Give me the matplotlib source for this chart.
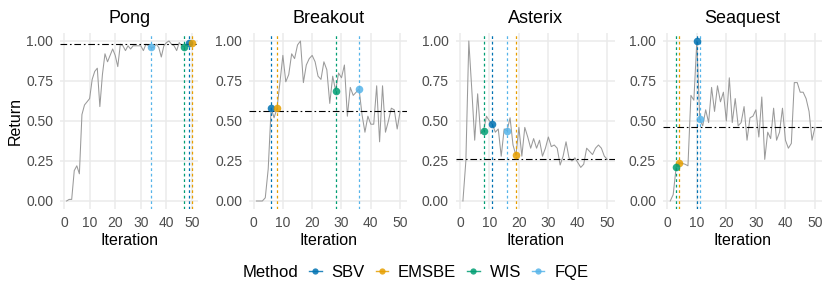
import matplotlib
matplotlib.use('Agg')
import matplotlib.pyplot as plt
from matplotlib.lines import Line2D

plt.rcParams['font.family'] = ['Liberation Sans', 'DejaVu Sans']

# ---- data ----
iterations = list(range(1, 51))
games = ['Pong', 'Breakout', 'Asterix', 'Seaquest']

pong_return = [0.00, 0.01, 0.01, 0.19, 0.22, 0.17, 0.54, 0.60, 0.62, 0.64,
               0.76, 0.81, 0.83, 0.59, 0.79, 0.92, 0.87, 0.91, 0.95, 0.91,
               0.84, 0.98, 0.97, 0.94, 0.97, 0.95, 0.97, 0.97, 0.97, 0.97,
               0.94, 0.98, 0.97, 0.96, 0.96, 0.98, 0.96, 0.90, 0.97, 0.99,
               1.00, 0.98, 0.97, 0.94, 0.99, 0.97, 0.965, 0.98, 0.985, 0.985]
breakout_return = [0.00, 0.00, 0.00, 0.02, 0.20, 0.58, 0.52, 0.58, 0.74, 0.91,
                   0.745, 0.79, 0.92, 0.89, 0.975, 1.00, 0.74, 0.85, 0.89, 0.91,
                   0.87, 0.78, 0.76, 0.87, 0.82, 0.61, 0.78, 0.69, 0.80, 0.77,
                   0.85, 0.53, 0.71, 0.66, 0.68, 0.70, 0.54, 0.43, 0.53, 0.48,
                   0.48, 0.72, 0.37, 0.72, 0.43, 0.50, 0.58, 0.57, 0.45, 0.56]
asterix_return = [0.00, 0.25, 1.00, 0.70, 0.38, 0.67, 0.42, 0.44, 0.53, 0.50,
                  0.48, 0.43, 0.45, 0.28, 0.45, 0.44, 0.52, 0.35, 0.285, 0.46,
                  0.28, 0.46, 0.40, 0.33, 0.39, 0.33, 0.38, 0.28, 0.33, 0.40,
                  0.34, 0.35, 0.33, 0.225, 0.28, 0.37, 0.27, 0.25, 0.27, 0.24,
                  0.21, 0.23, 0.33, 0.31, 0.29, 0.33, 0.35, 0.33, 0.28, 0.26]
seaquest_return = [0.00, 0.04, 0.21, 0.24, 0.235, 0.23, 0.22, 0.66, 0.63, 1.00,
                   0.51, 0.47, 0.57, 0.49, 0.71, 0.56, 0.72, 0.62, 0.68, 0.50,
                   0.77, 0.49, 0.64, 0.47, 0.49, 0.59, 0.38, 0.52, 0.53, 0.57,
                   0.40, 0.65, 0.26, 0.43, 0.39, 0.58, 0.38, 0.43, 0.58, 0.38,
                   0.33, 0.36, 0.74, 0.74, 0.68, 0.68, 0.64, 0.56, 0.38, 0.46]
game_returns = [pong_return, breakout_return, asterix_return, seaquest_return]

# dash-dot reference level per game
reference_level = [0.98, 0.56, 0.26, 0.46]

# iteration picked by each method, per game
methods = ['SBV', 'EMSBE', 'WIS', 'FQE']
method_colors = ['#0072B2', '#E69F00', '#009E73', '#56B4E9']
pong_pick = [49, 50, 47, 34]
breakout_pick = [6, 8, 28, 36]
asterix_pick = [11, 19, 8, 16]
seaquest_pick = [10, 4, 3, 11]
game_picks = [pong_pick, breakout_pick, asterix_pick, seaquest_pick]

x_ticks = [0, 10, 20, 30, 40, 50]
y_ticks = [0.0, 0.25, 0.5, 0.75, 1.0]

# ---- layout (pixel boxes of the panels) ----
W, H = 830, 288
panel_x = [(60.3, 198.3), (249.3, 407.3), (455.7, 614.5), (663.0, 822.2)]
panel_top, panel_bottom = 33, 209

fig = plt.figure(figsize=(W / 100, H / 100), dpi=100)

for i, game in enumerate(games):
    x0, x1 = panel_x[i]
    ax = fig.add_axes([x0 / W, 1 - panel_bottom / H, (x1 - x0) / W,
                       (panel_bottom - panel_top) / H])
    returns = game_returns[i]

    ax.plot(iterations, returns, color='#9A9A9A', linewidth=0.75, zorder=2)

    for m, color in enumerate(method_colors):
        it = game_picks[i][m]
        ax.axvline(it, color=color, linewidth=0.9, linestyle=(0, (2.2, 2.2)), zorder=3)

    ax.axhline(reference_level[i], color='black', linewidth=0.8,
               linestyle=(0, (6, 2.5, 1.5, 2.5)), zorder=4)

    for m, color in enumerate(method_colors):
        it = game_picks[i][m]
        ax.scatter([it], [returns[it - 1]], s=30, color=color, alpha=0.85,
                   linewidths=0, zorder=5)

    ax.set_xlim(-1.45, 52.45)
    ax.set_ylim(-0.05, 1.05)
    ax.set_xticks(x_ticks)
    ax.set_yticks(y_ticks)
    ax.set_yticklabels([f'{v:.2f}' for v in y_ticks])
    ax.tick_params(length=0, labelsize=10, labelcolor='#4D4D4D', pad=5)
    ax.grid(True, color='#EBEBEB', linewidth=1.1)
    ax.set_axisbelow(True)
    for side in ['top', 'right', 'bottom', 'left']:
        ax.spines[side].set_visible(False)

    ax.set_title(game, fontsize=13, pad=7)
    ax.set_xlabel('Iteration', fontsize=11.5)
    ax.xaxis.set_label_coords(0.5, -0.135)
    if i == 0:
        ax.set_ylabel('Return', fontsize=11.5)
        ax.yaxis.set_label_coords(-0.27, 0.5)

# ---- legend ----
legend_y = 1 - 272.7 / H
fig.text(243 / W, legend_y, 'Method', fontsize=12, va='center', ha='left')
handles = [Line2D([], [], color=c, marker='o', markersize=4.5, linewidth=1,
                  alpha=0.85, markeredgewidth=0) for c in method_colors]
fig.legend(handles, methods, loc='center left', bbox_to_anchor=(309 / W, legend_y),
           ncol=4, frameon=False, fontsize=12, handlelength=0.75,
           handletextpad=0.6, columnspacing=0.65, borderpad=0, borderaxespad=0)

fig.savefig('out.png', dpi=100, facecolor='white')
